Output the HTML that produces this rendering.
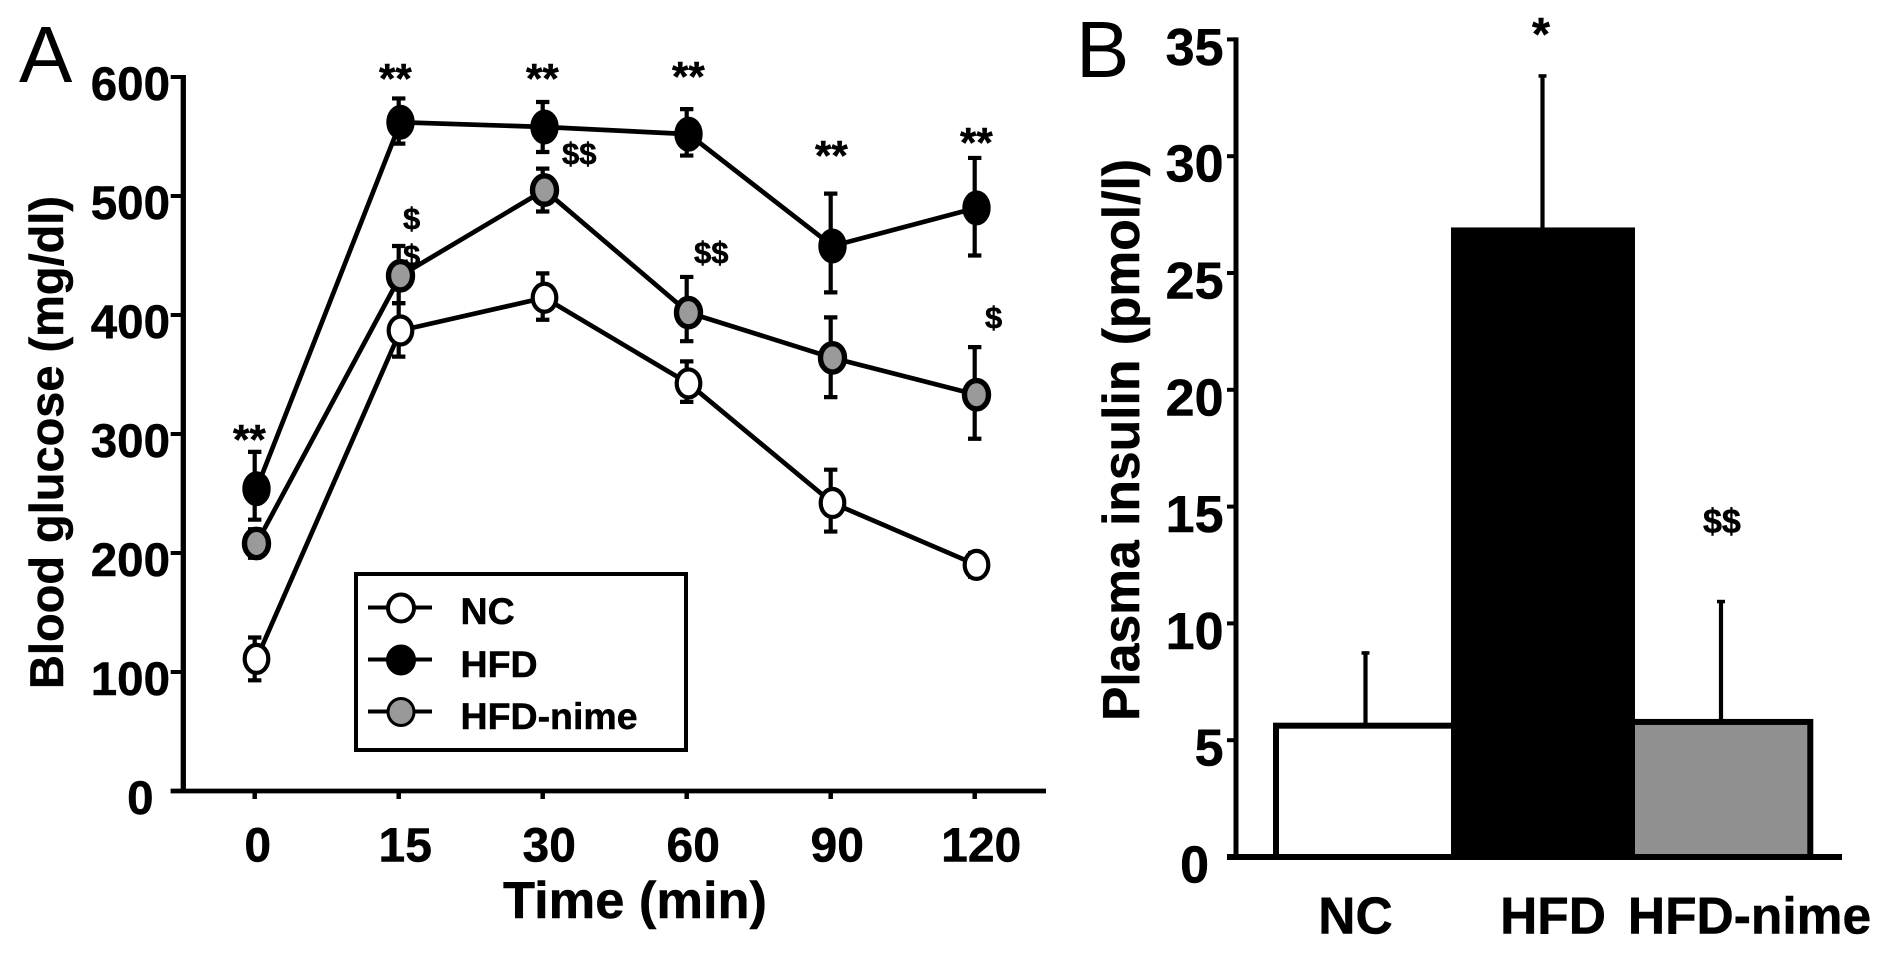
<!DOCTYPE html>
<html lang="en">
<head>
<meta charset="utf-8">
<title>Blood glucose and plasma insulin</title>
<style>
html,body{margin:0;padding:0;background:#fff;width:1890px;height:956px;overflow:hidden}
svg{display:block}
text{font-family:"Liberation Sans",Arial,sans-serif;font-weight:700;fill:#000;stroke:#000;stroke-width:0.5px}
text.thin{font-weight:400;stroke:none}
</style>
</head>
<body>
<svg id="fig" xmlns="http://www.w3.org/2000/svg" width="1890" height="956" viewBox="0 0 1890 956">
  <rect x="0" y="0" width="1890" height="956" fill="#fff"/>
  <text class="thin" x="19" y="82" font-size="80">A</text>
  <text class="thin" x="1076" y="77" font-size="80">B</text>

  <text transform="translate(63,689) rotate(-90)" font-size="47" textLength="493" lengthAdjust="spacingAndGlyphs">Blood glucose (mg/dl)</text>
  <text x="503" y="918" font-size="52" textLength="264" lengthAdjust="spacingAndGlyphs">Time (min)</text>
  <text transform="translate(1139,721) rotate(-90)" font-size="52" textLength="562" lengthAdjust="spacingAndGlyphs">Plasma insulin (pmol/l)</text>

  <g id="panelA"></g>
  <g id="panelB"></g>

  <g>
    <text x="233" y="454" font-size="42">**</text>
    <text x="379" y="93" font-size="42">**</text>
    <text x="526" y="93" font-size="42">**</text>
    <text x="672" y="91" font-size="42">**</text>
    <text x="815" y="170" font-size="42">**</text>
    <text x="960" y="157" font-size="42">**</text>
    <text x="403" y="229" font-size="31">$</text>
    <text x="403" y="266" font-size="31">$</text>
    <text x="562" y="164" font-size="31">$$</text>
    <text x="694" y="263" font-size="31">$$</text>
    <text x="985" y="328" font-size="31">$</text>
  </g>

  <g>
    <rect x="356" y="574" width="330" height="176" fill="#fff" stroke="#000" stroke-width="4"/>
    <g>
      <line x1="368" y1="607.5" x2="432" y2="607.5" stroke="#000" stroke-width="4"/>
      <ellipse cx="401" cy="608" rx="13" ry="13.5" fill="#fff" stroke="#000" stroke-width="4"/>
      <text x="460.5" y="624" font-size="37.5">NC</text>
    </g>
    <g>
      <line x1="368" y1="659.5" x2="432" y2="659.5" stroke="#000" stroke-width="4"/>
      <ellipse cx="401" cy="660" rx="13" ry="13.5" fill="#000" stroke="#000" stroke-width="4"/>
      <text x="460.5" y="677" font-size="37.5">HFD</text>
    </g>
    <g>
      <line x1="368" y1="711.5" x2="432" y2="711.5" stroke="#000" stroke-width="4"/>
      <ellipse cx="401" cy="712" rx="13" ry="13.5" fill="#999" stroke="#000" stroke-width="3"/>
      <text x="460.5" y="729" font-size="37.5">HFD-nime</text>
    </g>
  </g>

  <g>
    <text x="1532" y="50" font-size="46">*</text>
    <text x="1703" y="533" font-size="34">$$</text>
  </g>
</svg>

<script>
// Panel A data
var timeLabels = ["0", "15", "30", "60", "90", "120"];
var glucoseTicks = [0, 100, 200, 300, 400, 500, 600];
var ncMean = [111, 387, 414.5, 342.5, 242, 190];
var ncUpper = [129, 410, 435, 361, 270, 200];
var ncLower = [93, 365, 396, 327, 218, 180];
var hfdMean = [254, 562, 558, 552, 458, 490];
var hfdUpper = [285, 582, 579, 573, 502, 532];
var hfdLower = [228, 544, 537, 534, 419, 450];
var nimeMean = [208, 433, 505, 402, 364, 333];
var nimeUpper = [220, 458, 523, 432, 398, 373];
var nimeLower = [196, 410, 487, 378, 331, 296];

// Panel B data
var groupLabels = ["NC", "HFD", "HFD-nime"];
var insulinTicks = [0, 5, 10, 15, 20, 25, 30, 35];
var insulinMean = [5.75, 26.95, 5.91];
var insulinUpper = [8.8, 33.5, 11];

var NS = "http://www.w3.org/2000/svg";
function el(parent, tag, attrs, txt) {
  var e = document.createElementNS(NS, tag);
  for (var k in attrs) e.setAttribute(k, attrs[k]);
  if (txt !== undefined) e.textContent = txt;
  parent.appendChild(e);
  return e;
}

// ---------- Panel A ----------
var A = document.getElementById("panelA");
function xA(i) { return 254.7 + 144 * i; }
function yA(v) { return 791 - 1.19 * v; }

var yAxisA = el(A, "line", {x1: 183.3, y1: yA(600) - 2, x2: 183.3, y2: yA(0) + 2, stroke: "#000", "stroke-width": 5.3});


var xAxisA = el(A, "line", {x1: 170.7, y1: yA(0), x2: 1046, y2: yA(0), stroke: "#000", "stroke-width": 4.8});



glucoseTicks.forEach(function (t) {
  var tick = el(A, "line", {x1: 170.7, y1: yA(t), x2: 183, y2: yA(t), stroke: "#000", "stroke-width": 4});
  
  
  var lab = el(A, "text", {x: t === 0 ? 153.5 : 170, y: yA(t) + 23, "font-size": 47.5, "text-anchor": "end"}, String(t));
  
  
});
timeLabels.forEach(function (t, i) {
  var tick = el(A, "line", {x1: xA(i), y1: yA(0), x2: xA(i), y2: yA(0) + 8, stroke: "#000", "stroke-width": 4.5});
  
  
  var lab = el(A, "text", {x: xA(i) + (i === 0 ? 3 : 6.5), y: 861.5, "font-size": 48, "text-anchor": "middle"}, t);
  
  
});

function drawSeries(name, mean, upper, lower, fill, rx, ry, sw) {
  var g = el(A, "g", {});
  
  
  var pts = mean.map(function (v, i) { return (xA(i) + 1.8) + "," + yA(v); }).join(" ");
  var line = el(g, "polyline", {points: pts, fill: "none", stroke: "#000", "stroke-width": 4.7});
  
  
  mean.forEach(function (v, i) {
    var x = xA(i);
    var bar = el(g, "path", {
      d: "M" + (x - 6.7) + " " + yA(upper[i]) + "H" + (x + 6.7) + "M" + x + " " + yA(upper[i]) + "V" + yA(lower[i]) + "M" + (x - 6.7) + " " + yA(lower[i]) + "H" + (x + 6.7),
      fill: "none", stroke: "#000", "stroke-width": 4.2
    });
    
    
  });
  mean.forEach(function (v, i) {
    var m = el(g, "ellipse", {cx: xA(i) + 1.8, cy: yA(v), rx: rx, ry: ry, fill: fill, stroke: "#000", "stroke-width": sw});
    
    
  });
}
drawSeries("series-nc", ncMean, ncUpper, ncLower, "#fff", 11.8, 14, 4.2);
drawSeries("series-hfd", hfdMean, hfdUpper, hfdLower, "#000", 12.2, 15.5, 4);
drawSeries("series-hfd-nime", nimeMean, nimeUpper, nimeLower, "#9a9a9a", 12, 14.2, 5.4);

// ---------- Panel B ----------
var B = document.getElementById("panelB");
var barEdges = [1273, 1451, 1635, 1813.3];
var barFills = ["#fff", "#000", "#909090"];
var barExtendLeft = [0, 0, 6];
var barExtendRight = [6, 0, 0];
var barOrder = [0, 2, 1];
var catLabelX = [1355.5, 1553, 1749.5];
var errX = [1365.5, 1542.5, 1721];
function yB(v) { return 857 - 23.36 * v; }

var yAxisB = el(B, "line", {x1: 1236, y1: yB(35) - 2, x2: 1236, y2: yB(0), stroke: "#000", "stroke-width": 5});



insulinTicks.forEach(function (t) {
  var tick = el(B, "line", {x1: 1227, y1: yB(t), x2: 1236, y2: yB(t), stroke: "#000", "stroke-width": 4});
  
  
  var lab = el(B, "text", {x: t === 0 ? 1209 : 1223.5, y: yB(t) + 25.5, "font-size": 52, "text-anchor": "end"}, String(t));
  
  
});

barOrder.forEach(function (i) {
  var v = insulinMean[i];
  var err = el(B, "line", {x1: errX[i], y1: yB(insulinUpper[i]), x2: errX[i], y2: yB(v) + 1, stroke: "#000", "stroke-width": 4.2});
  
  
  var cap = el(B, "line", {x1: errX[i] - 4, y1: yB(insulinUpper[i]) + 1.5, x2: errX[i] + 4, y2: yB(insulinUpper[i]) + 1.5, stroke: "#000", "stroke-width": 3.5});
  
  
  var left = barEdges[i] - barExtendLeft[i];
  var right = barEdges[i + 1] + barExtendRight[i];
  var r = el(B, "rect", {x: left + 3, y: yB(v) + 3, width: right - left - 6, height: yB(0) - yB(v) - 3, fill: barFills[i], stroke: "#000", "stroke-width": 6});
  
  
  var lab = el(B, "text", {x: catLabelX[i], y: 933.5, "font-size": 51.5, "text-anchor": "middle"}, groupLabels[i]);
  
  
});

var xAxisB = el(B, "line", {x1: 1227, y1: yB(0), x2: 1842, y2: yB(0), stroke: "#000", "stroke-width": 6});


</script>
</body>
</html>
